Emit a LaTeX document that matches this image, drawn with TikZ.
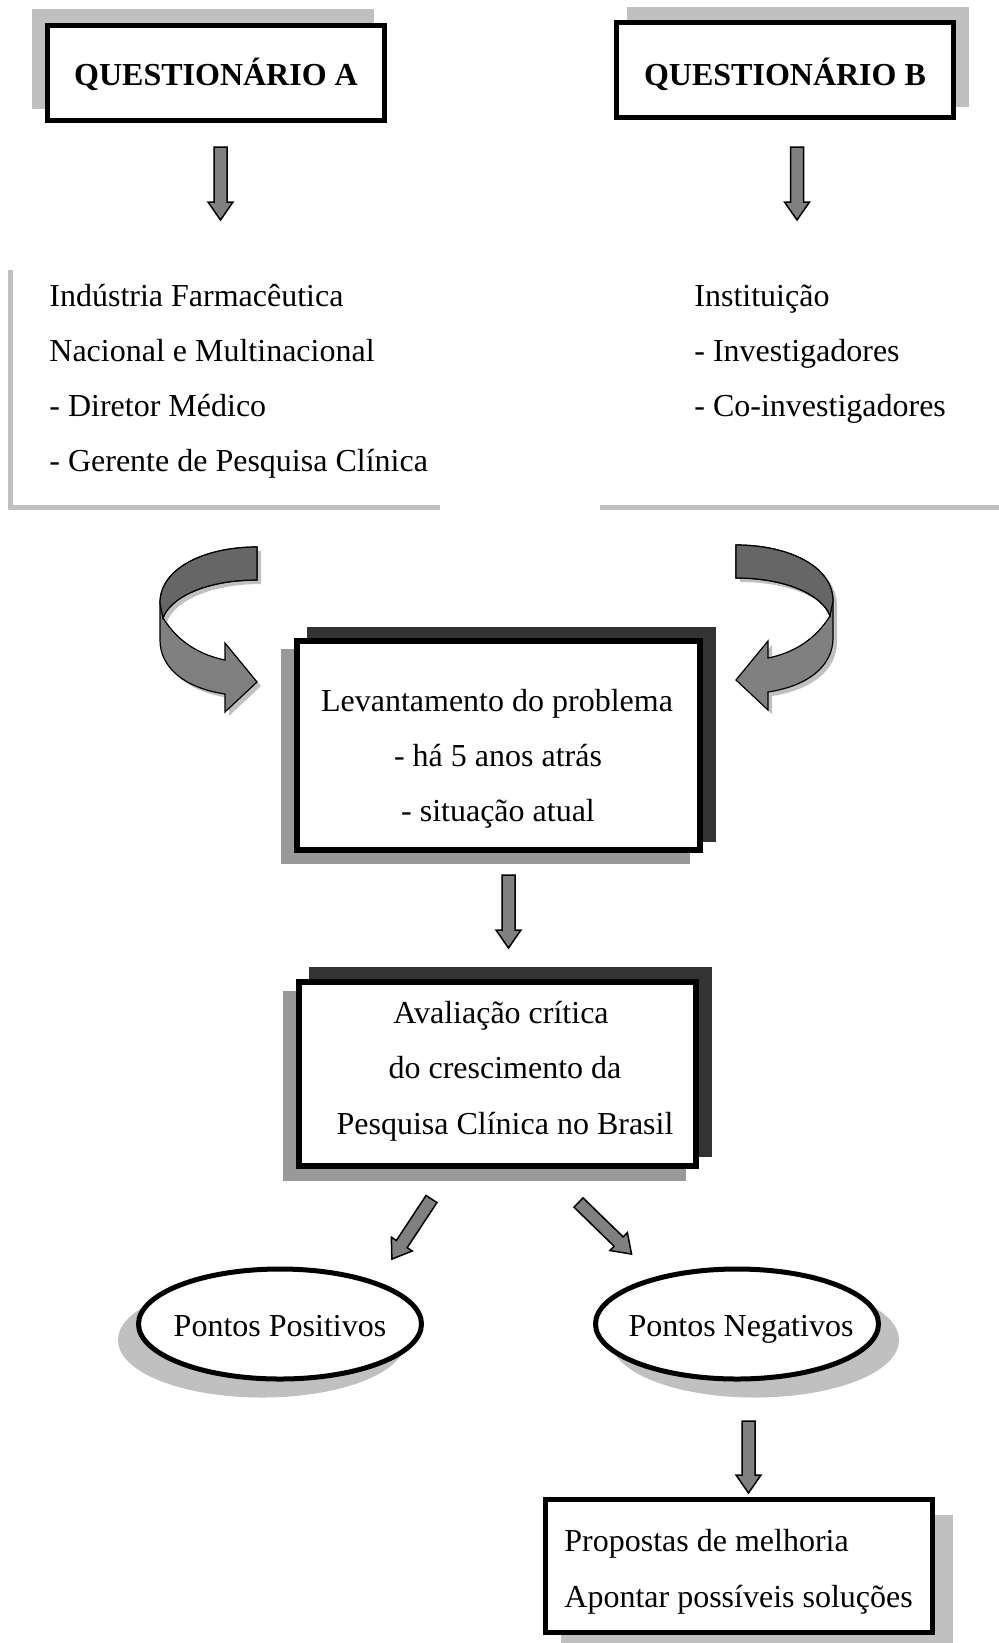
\documentclass[tikz,border=0pt]{standalone}
\usepackage{fontspec}
\setmainfont{Liberation Serif}
\usetikzlibrary{shapes.geometric}

\definecolor{arrowgray}{HTML}{808080}
\definecolor{banddark}{HTML}{666666}
\definecolor{shadowgray}{HTML}{C0C0C0}
\definecolor{darkshadow}{HTML}{333333}
\definecolor{midshadow}{HTML}{999999}

% outline of the bent arrow (left one, mirrored for the right one)
\newcommand{\bentoutline}{(257,547) -- (257,580) .. controls (205,580) and (170,598) .. (163,618)
  .. controls (178,642) and (200,655) .. (225,660) -- (225,643) -- (257,682) -- (225,712) -- (225,694)
  .. controls (185,688) and (160,668) .. (160,640) -- (160,603)
  .. controls (160,568) and (205,547) .. (257,547) -- cycle}
\newcommand{\bentband}{(257,547) -- (257,580) .. controls (205,580) and (170,598) .. (163,618)
  -- (160,603) .. controls (160,568) and (205,547) .. (257,547) -- cycle}

\begin{document}
\begin{tikzpicture}[x=0.5pt, y=-0.5pt,
		every node/.style={font=\fontsize{16}{27.5}\selectfont},
		drop/.style n args={3}{preaction={draw=#1, fill=#1, transform canvas={shift={(#2,#3)}}}},
		title_style/.style={draw=black, fill=white, line width=2.5pt, inner sep=0pt,
			text height=16pt, text depth=3pt,
			minimum width=168.5pt, minimum height=47.5pt, font=\fontsize{16}{20}\selectfont\bfseries},
		box_style/.style={draw=black, fill=white, line width=3pt, inner sep=0pt},
		oval_style/.style={ellipse, draw=black, fill=white, line width=2.5pt, inner sep=0pt,
			minimum width=141.5pt, minimum height=55pt},
		line_style/.style={anchor=mid west, inner sep=0pt, yshift=-3pt},
		center_style/.style={anchor=mid, inner sep=0pt, yshift=-3pt},
		rule_style/.style={draw=shadowgray, line width=2.5pt},
		arrow_style/.style={draw=black, fill=arrowgray, line width=0.75pt},
		bent_style/.style={draw=black, fill=arrowgray, line width=0.6pt},
		band_style/.style={draw=black, fill=banddark, line width=0.6pt},
		pics/block_arrow/.style={code={
			\draw[arrow_style] (-6.5,0) -- (6.5,0) -- (6.5,#1-18) -- (12.5,#1-18) -- (0,#1)
				-- (-12.5,#1-18) -- (-6.5,#1-18) -- cycle;}}]
	
	\useasboundingbox (0,0) rectangle (999,1643);
	
	\node[title_style, drop={shadowgray}{-13}{-14}] (qa) at (216,73) {QUESTIONÁRIO A};
	\node[title_style, text height=19pt, drop={shadowgray}{13}{-13}] (qb) at (785,70) {QUESTIONÁRIO B};
	
	\pic at (220.5,147) {block_arrow=73};
	\pic at (797,147) {block_arrow=73};
	
	\draw[rule_style] (10.5,270) |- (440,507.5);
	\draw[rule_style] (600,507.5) -- (999,507.5);
	
	\node[line_style] (ind1) at (49,296) {Indústria Farmacêutica};
	\node[line_style] (ind2) at (49,351) {Nacional e Multinacional};
	\node[line_style] (ind3) at (49,406) {- Diretor Médico};
	\node[line_style] (ind4) at (49,461) {- Gerente de Pesquisa Clínica};
	
	\node[line_style] (inst1) at (694,296) {Instituição};
	\node[line_style] (inst2) at (694,351) {- Investigadores};
	\node[line_style] (inst3) at (694,406) {- Co-investigadores};
	
	% bent arrows
	\fill[shadowgray, shift={(4,4)}] \bentoutline;
	\draw[bent_style] \bentoutline;
	\draw[band_style] \bentband;
	\begin{scope}[shift={(997,2)}, xscale=-1]
		\fill[shadowgray] \bentoutline;
	\end{scope}
	\begin{scope}[shift={(993,-2)}, xscale=-1]
		\draw[bent_style] \bentoutline;
		\draw[band_style] \bentband;
	\end{scope}
	
	\node[box_style, minimum width=201.5pt, minimum height=104.5pt,
		drop={darkshadow}{13}{-11}, drop={midshadow}{-13}{11}] (lev) at (498.5,745.5) {};
	\node[center_style] (lev1) at (497,701) {Levantamento do problema};
	\node[center_style] (lev2) at (498,756) {- há 5 anos atrás};
	\node[center_style] (lev3) at (498,811) {- situação atual};
	
	\pic at (508.5,875) {block_arrow=73};
	
	\node[box_style, minimum width=198.5pt, minimum height=92pt,
		drop={darkshadow}{13}{-12}, drop={midshadow}{-13}{12}] (aval) at (497.5,1074) {};
	\node[center_style] (aval1) at (501,1013) {Avaliação crítica};
	\node[center_style] (aval2) at (505,1068) {do crescimento da};
	\node[center_style] (aval3) at (505,1124) {Pesquisa Clínica no Brasil};
	
	\pic[rotate=-33.4] at (431.5,1199) {block_arrow=72};
	\pic[rotate=45.8] at (578.5,1202.5) {block_arrow=74};
	
	\node[oval_style, drop={shadowgray}{-18}{16}] (pos) at (280,1324) {};
	\node[center_style] (postext) at (280,1326) {Pontos Positivos};
	\node[oval_style, drop={shadowgray}{18}{16}] (neg) at (737,1324) {};
	\node[center_style] (negtext) at (741,1326) {Pontos Negativos};
	
	\pic at (748.5,1421) {block_arrow=72};
	
	\node[box_style, line width=2.5pt, minimum width=193.5pt, minimum height=66.5pt,
		drop={shadowgray}{18}{18}] (prop) at (739,1566) {};
	\node[line_style] (prop1) at (564,1541) {Propostas de melhoria};
	\node[line_style] (prop2) at (564,1597) {Apontar possíveis soluções};
	
\end{tikzpicture}
\end{document}
